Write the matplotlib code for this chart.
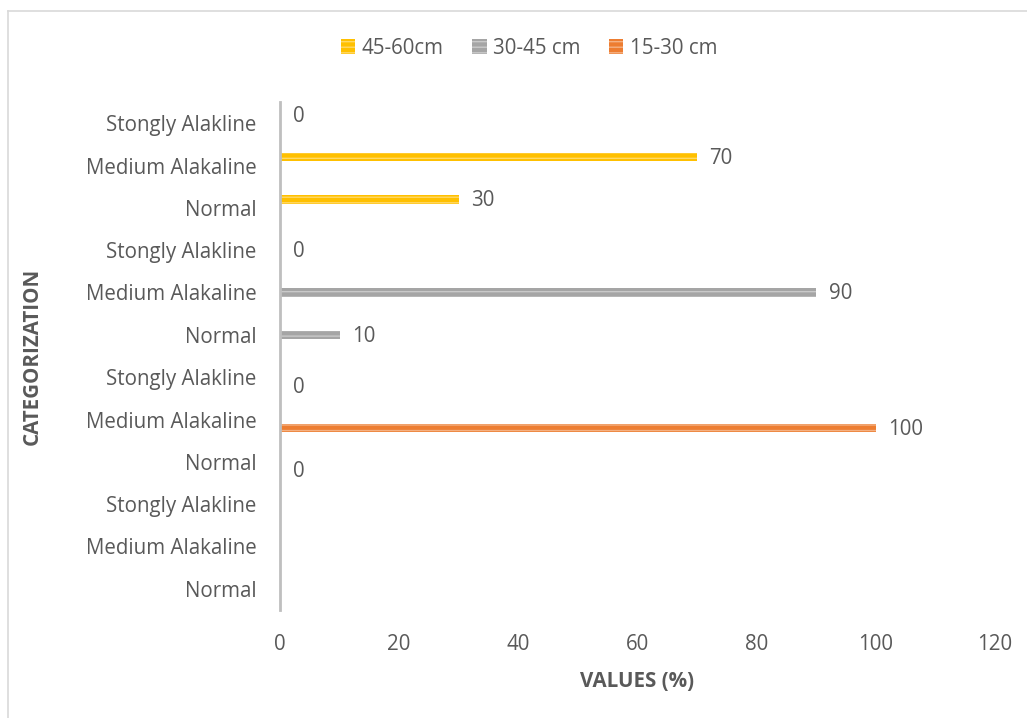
import matplotlib.pyplot as plt
from matplotlib.lines import Line2D
import numpy as np

plt.rcParams['font.family'] = ['Open Sans', 'DejaVu Sans']
plt.rcParams['hatch.linewidth'] = 1.0

# categories, bottom to top
categories = ['Normal', 'Medium Alakaline', 'Stongly Alakline'] * 4
nan = np.nan
vals_15_30 = [nan, nan, nan, 0, 100, 0, nan, nan, nan, nan, nan, nan]
vals_30_45 = [nan, nan, nan, nan, nan, nan, 10, 90, 0, nan, nan, nan]
vals_45_60 = [nan, nan, nan, nan, nan, nan, nan, nan, nan, 30, 70, 0]
series_names = ['45-60cm', '30-45 cm', '15-30 cm']
xticks = [0, 20, 40, 60, 80, 100, 120]

txt = '#595959'
colors = ['#FFC000', '#A5A5A5', '#ED7D31']
stripes = ['#FFD966', '#C9C9C9', '#F4B183']
fs = 14.8

fig = plt.figure(figsize=(10.27, 7.18), dpi=100)
ax = fig.add_axes([280/1027, 1-610/718, 715/1027, 508/718])

y = np.arange(len(categories))
h = 0.2
all_series = [vals_45_60, vals_30_45, vals_15_30]
offsets = [h, 0, -h]
for vals, off, c, s in zip(all_series, offsets, colors, stripes):
    v = np.array(vals, dtype=float)
    bars = ax.barh(y + off, np.nan_to_num(v), height=h, color=c,
                   edgecolor=s, linewidth=0, hatch='---')
    for yi, vi in zip(y, v):
        if not np.isnan(vi):
            ax.annotate('%d' % vi, (vi, yi + off), xytext=(9, -1),
                        textcoords='offset points', va='center', ha='left',
                        fontsize=fs, color=txt)

ax.set_xlim(0, 120)
ax.set_ylim(-0.5, len(categories) - 0.5)
ax.set_xticks(xticks)
ax.set_yticks(y)
ax.set_yticklabels(categories)
ax.tick_params(axis='both', length=0, labelsize=fs, labelcolor=txt)
ax.tick_params(axis='y', pad=17)
ax.tick_params(axis='x', pad=17)
for sp in ['top', 'right', 'bottom']:
    ax.spines[sp].set_visible(False)
ax.spines['left'].set_color('#BFBFBF')
ax.spines['left'].set_linewidth(2)

ax.set_xlabel('VALUES (%)', fontsize=fs, fontweight='bold', color=txt, labelpad=12)
fig.text(32/1027, 1-356/718, 'CATEGORIZATION', rotation=90, fontsize=fs,
         fontweight='bold', color=txt, ha='center', va='center')

handles = [plt.Rectangle((0, 0), 1, 1, facecolor=c, edgecolor=s, linewidth=0, hatch='---')
           for c, s in zip(colors, stripes)]
fig.legend(handles, series_names, loc='center', bbox_to_anchor=(529/1027, 1-48/718),
           ncol=3, frameon=False, fontsize=fs, labelcolor=txt,
           handlelength=0.7, handleheight=0.7, handletextpad=0.3, columnspacing=1.4)

# chart border (left and top edges visible)
fig.add_artist(Line2D([8/1027, 8/1027], [0, 1-11/718], color='#D9D9D9', lw=1.2))
fig.add_artist(Line2D([8/1027, 1], [1-11/718, 1-11/718], color='#D9D9D9', lw=1.2))

fig.savefig('out.png', dpi=100)
